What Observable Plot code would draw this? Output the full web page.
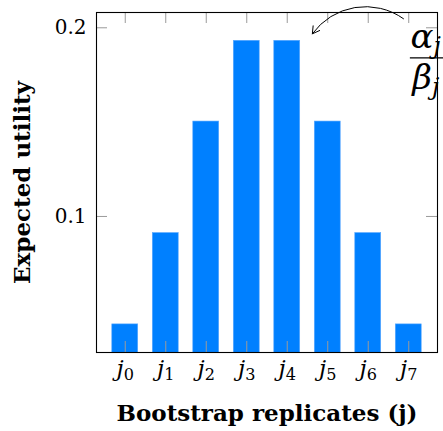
<!DOCTYPE html>
<html><head><meta charset="utf-8">
<script src="https://cdn.jsdelivr.net/npm/d3@7"></script>
<script src="https://cdn.jsdelivr.net/npm/@observablehq/plot@0.6"></script>
<style>body{margin:0;background:#fff} svg{display:block}</style>
</head><body><div id="chart"></div>
<script>
// ---- data ----
const categories = ["j_0", "j_1", "j_2", "j_3", "j_4", "j_5", "j_6", "j_7"];
const values = [0.0428, 0.0912, 0.1503, 0.1931, 0.1931, 0.1503, 0.0912, 0.0428];
const yTicks = [0.1, 0.2];
const yTickLabels = ["0.1", "0.2"];
const yLabel = "Expected utility";
const xLabel = "Bootstrap replicates (j)";
// annotation (data units)
const arrowData = [{x1: 6.87, y1: 0.2048, x2: 4.62, y2: 0.1968}];
const fracNumerator = ["α_j"];
const fracDenominator = ["β_j"];
const fracX = 7.42;
const fracNumY = 0.1894;
const fracLineY = 0.1841;
const fracDenY = 0.1677;
const fracLineX = [7.04, 7.95];

const data = categories.map((c, i) => ({i, c, value: values[i]}));
const idx = categories.map((c, i) => i);
const W = 443, H = 431, mL = 96, mR = 6, mT = 12, mB = 79;
const fw = W - mL - mR, fh = H - mT - mB;
const tick = 11;
const serif = "DejaVu Serif";

const chart = Plot.plot({
  width: W, height: H,
  marginLeft: mL, marginRight: mR, marginTop: mT, marginBottom: mB,
  x: {type: "linear", domain: [-0.71, 7.71], axis: null},
  y: {domain: [0.0279, 0.2081], axis: null},
  style: {fontFamily: serif, background: "white", color: "black"},
  marks: [
    Plot.rectY(data, {x1: d => d.i - 0.32, x2: d => d.i + 0.32, y1: 0, y2: "value", fill: "#0080ff", stroke: "#5aa8ff", strokeWidth: 0.6, clip: true}),
    Plot.tickX(idx, {x: d => d, stroke: "#9a9a9a", strokeWidth: 1, insetTop: fh - tick}),
    Plot.tickX(idx, {x: d => d, stroke: "#9a9a9a", strokeWidth: 1, insetBottom: fh - tick}),
    Plot.tickY(yTicks, {y: d => d, stroke: "#9a9a9a", strokeWidth: 1, insetRight: fw - tick}),
    Plot.tickY(yTicks, {y: d => d, stroke: "#9a9a9a", strokeWidth: 1, insetLeft: fw - tick}),
    Plot.frame({stroke: "black", strokeWidth: 1.1}),
    // x tick labels
    Plot.text(categories, {x: (d, i) => i, text: d => d, frameAnchor: "bottom", lineAnchor: "bottom", dy: 23, fontSize: 23, fontStyle: "italic"}),
    // y tick labels
    Plot.text(yTicks, {y: d => d, text: (d, i) => yTickLabels[i], frameAnchor: "left", textAnchor: "end", dx: -10, fontSize: 20}),
    // axis labels
    Plot.text([yLabel], {text: d => d, frameAnchor: "left", textAnchor: "middle", dx: -74, rotate: -90, fontSize: 23, fontWeight: "bold"}),
    Plot.text([xLabel], {text: d => d, frameAnchor: "bottom", lineAnchor: "bottom", dy: 68, fontSize: 23, fontWeight: "bold"}),
    // annotation
    Plot.arrow(arrowData, {x1: "x1", y1: "y1", x2: "x2", y2: "y2", bend: -45, headLength: 12, stroke: "black", strokeWidth: 1}),
    Plot.text(fracNumerator, {x: fracX, y: fracNumY, text: d => d, lineAnchor: "bottom", fontSize: 34, fontStyle: "italic"}),
    Plot.text(fracDenominator, {x: fracX, y: fracDenY, text: d => d, lineAnchor: "bottom", fontSize: 34, fontStyle: "italic"}),
    Plot.ruleY([fracLineY], {y: d => d, x1: fracLineX[0], x2: fracLineX[1], stroke: "black", strokeWidth: 1.3})
  ]
});

// convert "base_sub" strings into real subscripts
d3.select(chart).selectAll("text").each(function () {
  const t = this.textContent;
  const m = t.match(/^(.+)_(.+)$/);
  if (!m) return;
  const el = d3.select(this);
  el.text(null);
  el.append("tspan").text(m[1]);
  el.append("tspan")
    .attr("font-size", "0.7em")
    .attr("dy", "0.25em")
    .attr("font-style", /^\d+$/.test(m[2]) ? "normal" : "italic")
    .text(m[2]);
});

document.getElementById("chart").appendChild(chart);
</script>
</body></html>
